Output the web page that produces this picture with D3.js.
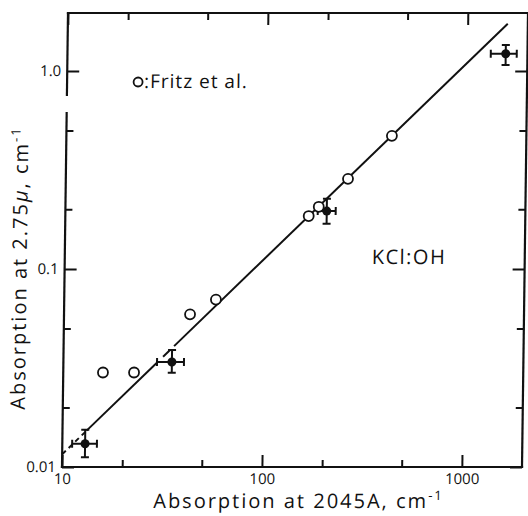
<!DOCTYPE html>
<html>
<head>
<meta charset="utf-8">
<script src="https://cdn.jsdelivr.net/npm/d3@7"></script>
<style>
  body { margin: 0; background: #fff; }
  text { font-family: "Open Sans", "DejaVu Sans", sans-serif; fill: #111; }
</style>
</head>
<body>
<svg id="chart" width="528" height="516"></svg>
<script>
// Fritz et al. (open circles)
const fritzX = [15.8, 22.6, 42.7, 57.4, 165, 185, 258, 425];
const fritzY = [0.030, 0.030, 0.059, 0.070, 0.185, 0.206, 0.285, 0.47];

// Present measurements (filled points with error bars)
const measX   = [13.0, 34.9, 203, 1557];
const measY   = [0.0131, 0.0339, 0.196, 1.22];
const measXLo = [11.2, 29.4, 183, 1311];
const measXHi = [14.9, 40.1, 225, 1768];
const measYLo = [0.0112, 0.0299, 0.169, 1.07];
const measYHi = [0.0154, 0.039, 0.226, 1.35];

// Straight-line fit on log-log axes: end points
const fitX = [10, 1587];
const fitY = [0.0116, 1.73];
// Pieces of the fit line that are drawn (x from, x to, dashed?)
const fitPieces = [[10, 13.2, true], [13.2, 29.7, false], [31.5, 34.1, false], [35.7, 1587, false]];

// Ticks
const xMajor = [10, 100, 1000];
const xMinor = [20, 50, 200, 500];
const xMajorLabels = ["10", "100", "1000"];
const yMajor = [0.01, 0.1, 1];
const yMinor = [0.02, 0.05, 0.2, 0.5];
const yMajorLabels = ["0.01", "0.1", "1.0"];

const plotL = 65, plotR = 525, plotT = 13, plotB = 467;

const x = d3.scaleLog().domain([10, 2000]).range([plotL, plotR]);
const y = d3.scaleLog().domain([0.01, 1.96]).range([plotB, plotT]);

const svg = d3.select("#chart");
// the whole drawing leans slightly, like the original ink plot
const g = svg.append("g")
  .attr("transform", "translate(0,240) skewX(-0.757) translate(0,-240)");

const ink = "#111";
const majLen = 12, minLen = 7;

function axisPart(axisFn, scale, values, len, labels, tx, ty) {
  const a = axisFn(scale).tickValues(values).tickSizeInner(-len).tickSizeOuter(0).tickPadding(6);
  if (labels) a.tickFormat((d, i) => labels[i]); else a.tickFormat(() => "");
  const ag = g.append("g").attr("transform", `translate(${tx},${ty})`).call(a);
  ag.select(".domain").remove();
  ag.selectAll(".tick line").attr("stroke", ink).attr("stroke-width", 2);
  ag.selectAll(".tick text").style("font-size", "15px").attr("fill", ink);
  return ag;
}

// bottom
axisPart(d3.axisBottom, x, xMajor, majLen, xMajorLabels, 0, plotB);
axisPart(d3.axisBottom, x, xMinor, minLen, null, 0, plotB);
// top
axisPart(d3.axisTop, x, xMajor, majLen, null, 0, plotT);
axisPart(d3.axisTop, x, xMinor, minLen, null, 0, plotT);
// left
axisPart(d3.axisLeft, y, yMajor, majLen, yMajorLabels, plotL, 0);
axisPart(d3.axisLeft, y, yMinor, minLen, null, plotL, 0);
// right
axisPart(d3.axisRight, y, yMajor, majLen, null, plotR, 0);
axisPart(d3.axisRight, y, yMinor, minLen, null, plotR, 0);

// frame, with a break in the left edge
const frame = [
  [[plotL, plotT], [plotR, plotT]],
  [[plotR, plotT], [plotR, plotB]],
  [[plotL, plotB], [plotR, plotB]],
  [[plotL, plotT], [plotL, 95]],
  [[plotL, 113], [plotL, plotB]]
];
g.append("g").selectAll("line").data(frame).join("line")
  .attr("x1", d => d[0][0]).attr("y1", d => d[0][1])
  .attr("x2", d => d[1][0]).attr("y2", d => d[1][1])
  .attr("stroke", ink).attr("stroke-width", 2.2).attr("stroke-linecap", "square");

// fit line pieces (power law through the two end points)
const slope = Math.log10(fitY[1] / fitY[0]) / Math.log10(fitX[1] / fitX[0]);
const fitAt = v => fitY[0] * Math.pow(v / fitX[0], slope);
g.append("g").selectAll("line").data(fitPieces).join("line")
  .attr("x1", d => x(d[0])).attr("y1", d => y(fitAt(d[0])))
  .attr("x2", d => x(d[1])).attr("y2", d => y(fitAt(d[1])))
  .attr("stroke", ink).attr("stroke-width", 2)
  .attr("stroke-dasharray", d => d[2] ? "5,4" : null);

// error bars
const meas = measX.map((v, i) => ({x: v, y: measY[i], xl: measXLo[i], xh: measXHi[i], yl: measYLo[i], yh: measYHi[i]}));
const eb = g.append("g").attr("stroke", ink).attr("stroke-width", 2);
const cap = 4;
meas.forEach(d => {
  eb.append("line").attr("x1", x(d.xl)).attr("x2", x(d.xh)).attr("y1", y(d.y)).attr("y2", y(d.y));
  eb.append("line").attr("x1", x(d.x)).attr("x2", x(d.x)).attr("y1", y(d.yl)).attr("y2", y(d.yh));
  [d.xl, d.xh].forEach(v => eb.append("line").attr("x1", x(v)).attr("x2", x(v)).attr("y1", y(d.y) - cap).attr("y2", y(d.y) + cap));
  [d.yl, d.yh].forEach(v => eb.append("line").attr("y1", y(v)).attr("y2", y(v)).attr("x1", x(d.x) - cap).attr("x2", x(d.x) + cap));
});
g.append("g").selectAll("circle").data(meas).join("circle")
  .attr("cx", d => x(d.x)).attr("cy", d => y(d.y)).attr("r", 4.5).attr("fill", ink);

// Fritz et al. open circles
g.append("g").selectAll("circle").data(fritzX.map((v, i) => [v, fritzY[i]])).join("circle")
  .attr("cx", d => x(d[0])).attr("cy", d => y(d[1])).attr("r", 5)
  .attr("fill", "#fff").attr("stroke", ink).attr("stroke-width", 1.8);

// legend
g.append("circle").attr("cx", 136).attr("cy", 82).attr("r", 4.5)
  .attr("fill", "#fff").attr("stroke", ink).attr("stroke-width", 1.8);
g.append("text").attr("x", 142).attr("y", 88).style("font-size", "19px")
  .style("letter-spacing", "1px").text(":Fritz et al.");

// sample label
g.append("text").attr("x", 372).attr("y", 264).style("font-size", "20px")
  .style("letter-spacing", "1.5px").text("KCl:OH");

// axis titles
const xt = g.append("text").attr("x", 302).attr("y", 508).attr("text-anchor", "middle")
  .style("font-size", "20px").style("letter-spacing", "2px");
xt.append("tspan").text("Absorption at 2045A, cm");
xt.append("tspan").attr("dy", -8).style("font-size", "13px").text("-1");

const yt = g.append("text").attr("transform", "translate(27,268) rotate(-90)")
  .attr("text-anchor", "middle").style("font-size", "20px").style("letter-spacing", "2px");
yt.append("tspan").text("Absorption at 2.75");
yt.append("tspan").style("font-style", "italic").text("μ");
yt.append("tspan").text(", cm");
yt.append("tspan").attr("dy", -8).style("font-size", "13px").text("-1");
</script>
</body>
</html>
